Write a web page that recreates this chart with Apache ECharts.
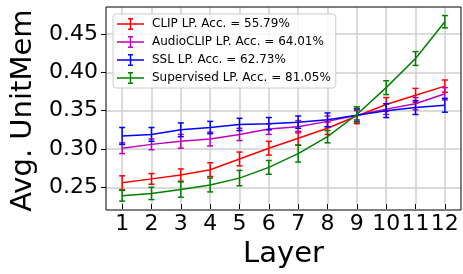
<!DOCTYPE html>
<html>
<head>
<meta charset="utf-8">
<script src="https://cdn.jsdelivr.net/npm/echarts@6/dist/echarts.min.js"></script>
<style>
html,body{margin:0;padding:0;background:#fff;}
#chart{width:463px;height:274px;}
</style>
</head>
<body>
<div id="chart"></div>
<script>
// 数据：每层的平均 UnitMem 与误差
var layers = [1,2,3,4,5,6,7,8,9,10,11,12];
var clipMean   = [0.256,0.261,0.266,0.273,0.287,0.301,0.314,0.327,0.343,0.358,0.370,0.382];
var clipErr    = [0.009,0.007,0.008,0.009,0.009,0.009,0.009,0.008,0.010,0.009,0.009,0.008];
var audioMean  = [0.301,0.306,0.310,0.313,0.319,0.326,0.329,0.336,0.344,0.352,0.359,0.372];
var audioErr   = [0.007,0.007,0.009,0.009,0.008,0.007,0.008,0.007,0.006,0.007,0.008,0.008];
var sslMean    = [0.317,0.319,0.325,0.328,0.332,0.333,0.335,0.338,0.344,0.350,0.354,0.357];
var sslErr     = [0.011,0.009,0.009,0.008,0.008,0.008,0.008,0.009,0.008,0.009,0.009,0.009];
var supMean    = [0.239,0.242,0.247,0.253,0.262,0.276,0.294,0.316,0.345,0.380,0.418,0.466];
var supErr     = [0.007,0.008,0.010,0.009,0.010,0.009,0.011,0.008,0.010,0.009,0.009,0.008];
var yTicks = [0.25,0.30,0.35,0.40,0.45];
var seriesNames = ['CLIP LP. Acc. = 55.79%','AudioCLIP LP. Acc. = 64.01%','SSL LP. Acc. = 62.73%','Supervised LP. Acc. = 81.05%'];
var seriesColors = ['#ff0000','#bf00bf','#0000ff','#008000'];

var W = 463, H = 274;
// 主绘图区
var gL = 106, gR = 2, gT = 7, gB = 64;
var xMin = 0.45, xMax = 12.55, yMin = 0.2204, yMax = 0.4852;
var pw = W - gL - gR, ph = H - gT - gB;
function px(x){ return gL + (x - xMin) / (xMax - xMin) * pw; }
function py(y){ return gT + (yMax - y) / (yMax - yMin) * ph; }

var font = 'DejaVu Sans';
var grid = '#cfcfcf';

var myChart = echarts.init(document.getElementById('chart'), null, {renderer:'canvas'});

function pairs(mean, err){
	var d = [];
	for(var i=0;i<layers.length;i++){
		d.push([layers[i], mean[i], err[i]]);
	}
	return d;
}

function errRender(color){
	return function(params, api){
		var x = api.value(0), y = api.value(1), e = api.value(2);
		var lo = api.coord([x, y - e]);
		var hi = api.coord([x, y + e]);
		var st = {stroke: color, lineWidth: 1.5};
		return {
			type: 'group',
			children: [
				{type:'line', shape:{x1:lo[0],y1:lo[1],x2:hi[0],y2:hi[1]}, style:st},
				{type:'line', shape:{x1:lo[0]-3,y1:lo[1],x2:lo[0]+3,y2:lo[1]}, style:st},
				{type:'line', shape:{x1:hi[0]-3,y1:hi[1],x2:hi[0]+3,y2:hi[1]}, style:st}
			]
		};
	};
}

var means = [clipMean, audioMean, sslMean, supMean];
var errs = [clipErr, audioErr, sslErr, supErr];
var series = [];
for(var k=0;k<4;k++){
	series.push({
		name: seriesNames[k],
		type: 'line',
		xAxisIndex: 0, yAxisIndex: 0,
		data: pairs(means[k], errs[k]).map(function(p){ return [p[0], p[1]]; }),
		showSymbol: false,
		symbol: 'none',
		lineStyle: {color: seriesColors[k], width: 1.5},
		itemStyle: {color: seriesColors[k]},
		z: 3 + k,
		animation: false
	});
	series.push({
		name: seriesNames[k],
		type: 'custom',
		xAxisIndex: 0, yAxisIndex: 0,
		data: pairs(means[k], errs[k]),
		renderItem: errRender(seriesColors[k]),
		encode: {x: 0, y: 1},
		z: 3 + k,
		animation: false
	});
}

var errIcon = 'path://M0,5.25H27V6.75H0Z M12.75,0H14.25V12H12.75Z M11,0H16V1.5H11Z M11,10.5H16V12H11Z';

var option = {
	animation: false,
	grid: [
		{left: gL, right: gR, top: gT, bottom: gB, show: true, borderColor: '#000', borderWidth: 1, backgroundColor: 'transparent', z: 2},
		// x 轴刻度用
		{left: px(1), right: W - px(12), top: gT, bottom: gB},
		// y 轴刻度用
		{left: gL, right: gR, top: py(0.45), bottom: H - py(0.25)}
	],
	xAxis: [
		{type:'value', gridIndex:0, min:xMin, max:xMax, show:false},
		{type:'value', gridIndex:1, min:1, max:12, interval:1,
			name:'Layer', nameLocation:'middle', nameGap:36,
			nameTextStyle:{fontFamily:font, fontSize:29, color:'#000'},
			axisLine:{show:false},
			axisTick:{show:true, length:5, lineStyle:{color:'#000', width:1}},
			axisLabel:{fontFamily:font, fontSize:22, color:'#000', margin:9},
			splitLine:{show:true, lineStyle:{color:grid, width:1.5}}
		},
		{type:'value', gridIndex:2, min:0, max:1, show:false}
	],
	yAxis: [
		{type:'value', gridIndex:0, min:yMin, max:yMax, show:false},
		{type:'value', gridIndex:1, min:0, max:1, show:false},
		{type:'value', gridIndex:2, min:yTicks[0], max:yTicks[yTicks.length-1], interval:0.05,
			offset: 0,
			name:'Avg. UnitMem', nameLocation:'middle', nameGap:66, nameRotate:90,
			nameTextStyle:{fontFamily:font, fontSize:29, color:'#000'},
			axisLine:{show:false},
			axisTick:{show:true, length:5, lineStyle:{color:'#000', width:1}},
			axisLabel:{fontFamily:font, fontSize:22, color:'#000', margin:8,
				formatter:function(v){ return v.toFixed(2); }},
			splitLine:{show:true, lineStyle:{color:grid, width:1.5}}
		}
	],
	legend: {
		orient: 'vertical',
		left: 113, top: 14,
		padding: [4, 5, 4, 4],
		itemGap: 6,
		itemWidth: 27, itemHeight: 12,
		icon: errIcon,
		backgroundColor: 'rgba(255,255,255,0.85)',
		borderColor: '#cccccc', borderWidth: 1, borderRadius: 3,
		textStyle: {fontFamily: font, fontSize: 12, color: '#000', padding: [0,0,0,3]},
		data: seriesNames,
		z: 10
	},
	series: series
};
myChart.setOption(option);
</script>
</body>
</html>
